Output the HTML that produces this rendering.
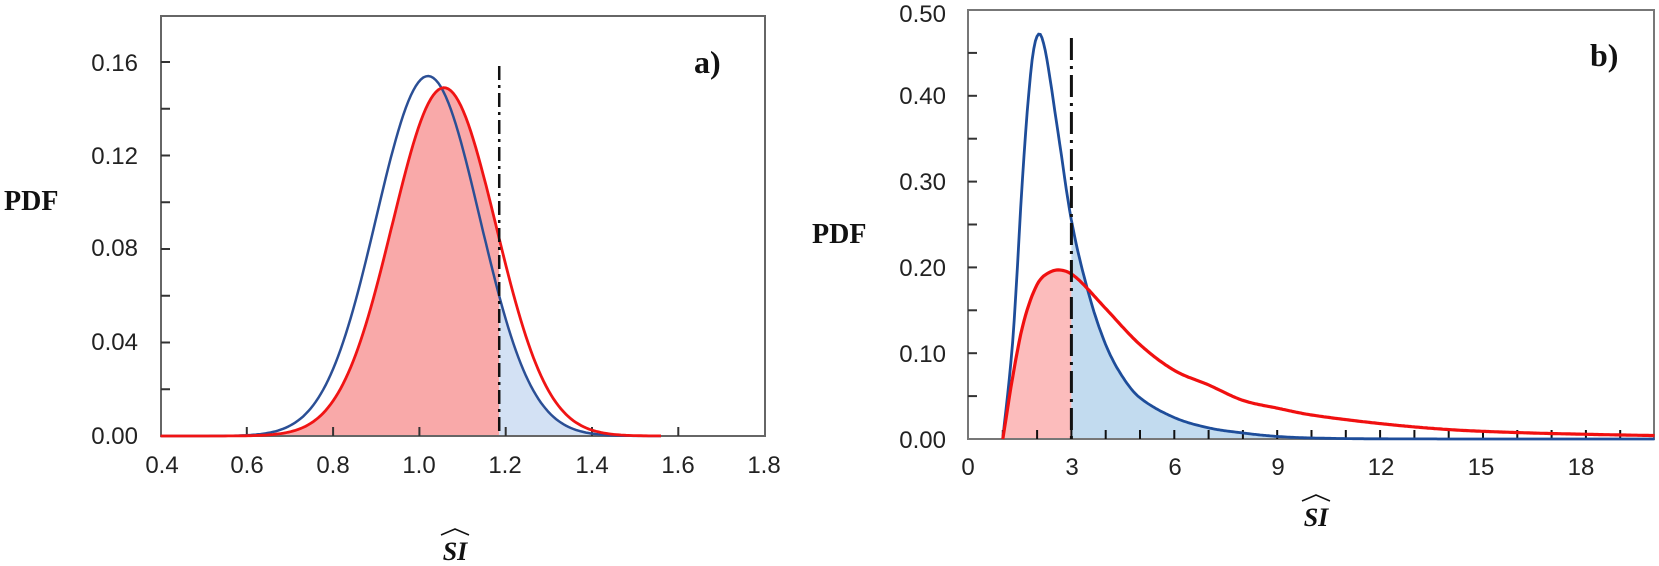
<!DOCTYPE html>
<html><head><meta charset="utf-8">
<style>
html,body{margin:0;padding:0;background:#fff;}
svg{display:block;}
.t{font-family:"Liberation Sans",sans-serif;font-size:24px;fill:#222;}
.b{font-family:"Liberation Serif",serif;font-weight:bold;fill:#111;}
</style></head>
<body>
<svg id="s" width="1659" height="566" viewBox="0 0 1659 566" xmlns="http://www.w3.org/2000/svg">
<rect width="1659" height="566" fill="#fff"/>
<g id="g"></g>
<!-- panel a texts -->
<text class="b" x="4" y="210" font-size="28">PDF</text>
<text class="b" x="694" y="73" font-size="32">a)</text>
<g class="t" text-anchor="end">
<text x="138" y="71">0.16</text><text x="138" y="164">0.12</text><text x="138" y="256">0.08</text><text x="138" y="350">0.04</text><text x="138" y="444">0.00</text>
</g>
<g class="t" text-anchor="middle">
<text x="162" y="473">0.4</text><text x="247" y="473">0.6</text><text x="333" y="473">0.8</text><text x="419" y="473">1.0</text><text x="505" y="473">1.2</text><text x="592" y="473">1.4</text><text x="678" y="473">1.6</text><text x="764" y="473">1.8</text>
</g>
<text class="b" x="455" y="560" font-size="26" font-style="italic" text-anchor="middle">SI</text>
<path d="M441 535 L455 529 L469 535" stroke="#111" stroke-width="1.5" fill="none"/>
<!-- panel b texts -->
<text class="b" x="812" y="243" font-size="28">PDF</text>
<text class="b" x="1590" y="66" font-size="32">b)</text>
<g class="t" text-anchor="end">
<text x="946" y="22">0.50</text><text x="946" y="104">0.40</text><text x="946" y="190">0.30</text><text x="946" y="276">0.20</text><text x="946" y="362">0.10</text><text x="946" y="448">0.00</text>
</g>
<g class="t" text-anchor="middle">
<text x="968" y="475">0</text><text x="1072" y="475">3</text><text x="1175" y="475">6</text><text x="1278" y="475">9</text><text x="1381" y="475">12</text><text x="1481" y="475">15</text><text x="1581" y="475">18</text>
</g>
<text class="b" x="1316" y="526" font-size="26" font-style="italic" text-anchor="middle">SI</text>
<path d="M1302 501 L1316 495 L1330 501" stroke="#111" stroke-width="1.5" fill="none"/>
</svg>
<script>
var NS="http://www.w3.org/2000/svg",G=document.getElementById("g");
function el(n,a){var e=document.createElementNS(NS,n);for(var k in a)e.setAttribute(k,a[k]);G.appendChild(e);return e;}
// Panel a mapping
var ax=function(x){return 160.5+(x-0.4)/0.2*86.3;}, ay=function(v){return 436-v/0.04*93.5;};
function gauss(m,s,p){return function(x){return p*Math.exp(-(x-m)*(x-m)/(2*s*s));};}
var fb=gauss(1.02,0.12,0.154), fr=gauss(1.057,0.12,0.149);
function pts(f,x0,x1,n,X,Y){var a=[];for(var i=0;i<=n;i++){var x=x0+(x1-x0)*i/n;a.push([X(x),Y(f(x))]);}return a;}
function pstr(a){return a.map(function(p,i){return (i?"L":"M")+p[0].toFixed(1)+" "+p[1].toFixed(1);}).join("");}
// fills a
var xc=1.185;
var rf=pts(fr,0.4,xc,120,ax,ay);
el("path",{d:pstr(rf)+"L"+ax(xc)+" "+ay(0)+"L"+ax(0.4)+" "+ay(0)+"Z",fill:"#f9a9a9"});
var bf=pts(fb,xc,1.42,60,ax,ay);
el("path",{d:pstr(bf)+"L"+ax(1.42)+" "+ay(0)+"L"+ax(xc)+" "+ay(0)+"Z",fill:"#d3e1f4"});
// frame a
el("rect",{x:161,y:16,width:604,height:420,fill:"none",stroke:"#666","stroke-width":2});
for(var v=0.02;v<0.175;v+=0.02){var y=ay(v);el("line",{x1:161,x2:170,y1:y,y2:y,stroke:"#333","stroke-width":2});}
for(var x=0.6;x<1.75;x+=0.2){var X=ax(x);el("line",{x1:X,x2:X,y1:436,y2:427,stroke:"#333","stroke-width":2});}
el("path",{d:pstr(pts(fb,0.4,1.56,200,ax,ay)),fill:"none",stroke:"#2b4f95","stroke-width":2.5});
el("path",{d:pstr(pts(fr,0.4,1.56,200,ax,ay)),fill:"none",stroke:"#f01414","stroke-width":2.8});
el("line",{x1:ax(xc),x2:ax(xc),y1:66,y2:436,stroke:"#111","stroke-width":2.5,"stroke-dasharray":"14 5 3 5"});
// Panel b mapping
var bx=function(x){return 968.5+x*34.3;}, by=function(v){return 439-v/0.1*85.8;};
function interp(P){return function(x){if(x<=P[0][0])return P[0][1];for(var i=0;i<P.length-1;i++){if(x<=P[i+1][0]){var p0=P[Math.max(i-1,0)],p1=P[i],p2=P[i+1],p3=P[Math.min(i+2,P.length-1)];var t=(x-p1[0])/(p2[0]-p1[0]);
var m1=(p2[1]-p0[1])/(p2[0]-p0[0])*(p2[0]-p1[0]),m2=(p3[1]-p1[1])/(p3[0]-p1[0])*(p2[0]-p1[0]);
if(i==0)m1=(p2[1]-p1[1]);
var t2=t*t,t3=t2*t;return (2*t3-3*t2+1)*p1[1]+(t3-2*t2+t)*m1+(-2*t3+3*t2)*p2[1]+(t3-t2)*m2;}}return P[P.length-1][1];};}
var B=interp([[1,0],[1.3,0.12],[1.6,0.32],[1.85,0.44],[2.05,0.472],[2.25,0.45],[2.6,0.36],[3,0.255],[3.5,0.17],[4,0.11],[4.5,0.072],[5,0.048],[6,0.025],[7,0.013],[8,0.007],[9,0.003],[10,0.0012],[12,0.0002],[20,0]]);
var R=interp([[1,0],[1.3,0.075],[1.6,0.135],[2,0.18],[2.4,0.195],[2.8,0.196],[3.2,0.186],[4,0.152],[5,0.11],[6,0.08],[7,0.063],[8,0.045],[9,0.036],[10,0.028],[12,0.018],[14,0.011],[16,0.0075],[18,0.0055],[20,0.004]]);
var xc2=3;
el("path",{d:pstr(pts(R,1,xc2,80,bx,by))+"L"+bx(xc2)+" "+by(0)+"Z",fill:"#fcbcbc"});
el("path",{d:pstr(pts(B,xc2,12,150,bx,by))+"L"+bx(12)+" "+by(0)+"L"+bx(xc2)+" "+by(0)+"Z",fill:"#c2dbef"});
el("rect",{x:968,y:10,width:686,height:429,fill:"none",stroke:"#777","stroke-width":2});
for(var v=0.05;v<0.49;v+=0.05){var y=by(v);el("line",{x1:968,x2:977,y1:y,y2:y,stroke:"#333","stroke-width":2});}
for(var x=1;x<=19;x++){var X=bx(x);el("line",{x1:X,x2:X,y1:439,y2:430,stroke:"#111","stroke-width":2});}
el("path",{d:pstr(pts(B,1,20,400,bx,by)),fill:"none",stroke:"#1e4d9a","stroke-width":2.8});
el("path",{d:pstr(pts(R,1,20,400,bx,by)),fill:"none",stroke:"#f01010","stroke-width":3.2});
el("line",{x1:bx(xc2),x2:bx(xc2),y1:38,y2:439,stroke:"#111","stroke-width":3,"stroke-dasharray":"22 6 3 6"});
</script>
</body></html>
